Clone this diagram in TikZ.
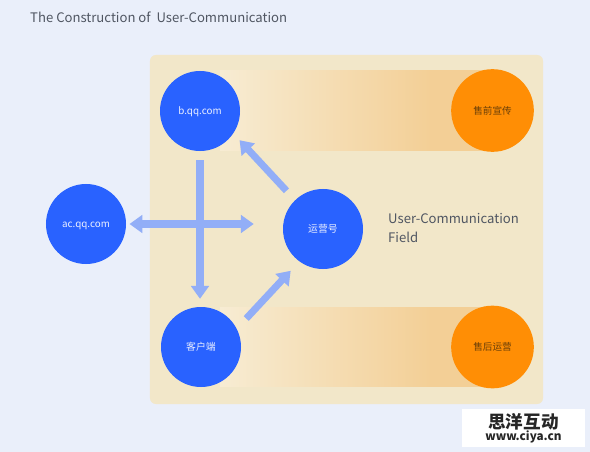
\documentclass[tikz,border=0pt]{standalone}
\usepackage{xcolor}
\usepackage{fontspec}
\setmainfont{Noto Sans CJK SC}
\usetikzlibrary{arrows.meta,shapes.geometric}
\definecolor{fieldPage}{HTML}{EAEFFA}
\definecolor{fieldPanel}{HTML}{F2E7C9}
\definecolor{fieldBandStart}{HTML}{F7ECD3}
\definecolor{fieldBand}{HTML}{F3CF96}
\definecolor{fieldBlue}{HTML}{2962FF}
\definecolor{fieldOrange}{HTML}{FF8E05}
\definecolor{fieldFlow}{HTML}{92AEF7}
\definecolor{fieldInk}{HTML}{505662}
\definecolor{fieldStageInk}{HTML}{6A3F08}
\pgfdeclarehorizontalshading{bandfade}{100bp}{color(0bp)=(fieldBandStart); color(25bp)=(fieldBandStart); color(64bp)=(fieldBand); color(75bp)=(fieldBand); color(100bp)=(fieldBand)}

\begin{document}
\begin{tikzpicture}[
  x=0.03cm,y=-0.03cm,
  hub/.style={circle,fill=fieldBlue,text=white!90!fieldBlue,minimum size=2.4cm,inner sep=0pt,outer sep=0pt,text height=1.6ex,text depth=0.4ex,font=\fontsize{8.4}{10}\selectfont},
  stage/.style={circle,fill=fieldOrange,text=fieldStageInk,minimum size=2.48cm,inner sep=0pt,outer sep=0pt,font=\fontsize{8.2}{10}\selectfont},
  band/.style={minimum width=8.1cm,minimum height=2.37cm,inner sep=0pt,outer sep=0pt,shading=bandfade},
  flow/.style={draw=fieldFlow,line width=6pt,-{Triangle[length=11pt,width=15pt]}},
  twoway/.style={draw=fieldFlow,line width=6pt,{Triangle[length=11pt,width=15pt]}-{Triangle[length=11pt,width=15pt]}},
  caption/.style={text=fieldInk,anchor=west,align=left,inner sep=0pt}
]
% Page and field
\fill[fieldPage] (0,0) rectangle (590,452);
\useasboundingbox (0,0) rectangle (590,452);
\node[minimum width=11.79cm,minimum height=10.47cm,inner sep=0pt,fill=fieldPanel,rounded corners=5pt] (field) at (346.5,229.5) {};

% Bands behind the stages
\node[band] (bandtop) at (355,110.5) {};
\node[band] (bandbot) at (355,346.5) {};

% Stages and hubs
\node[stage] (pre)  at (492.5,110.5) {售前宣传};
\node[stage] (post) at (492.5,347) {售后运营};
\node[hub] (b)  at (200,111) {b.qq.com};
\node[hub] (ac) at (86,224)  {ac.qq.com};
\node[hub] (yy) at (323,229) {运营号};
\node[hub] (kh) at (201,347) {客户端};

% Flows
\draw[flow,shorten <=8pt,shorten >=7pt] (b) -- (b |- kh.north);
\draw[twoway,shorten <=3pt,shorten >=25pt] (ac.east) -- (yy.west |- ac.east);
\draw[flow,shorten <=11pt,shorten >=8pt] (yy.134) -- (b.-34);
\draw[flow,shorten <=12pt,shorten >=11pt] (kh.27) -- (yy.234);

% Texts
\node[caption,font=\fontsize{11.2}{13}\selectfont] (title) at (30,17) {The Construction of\ \ User-Communication};
\node[caption,font=\fontsize{11.2}{17}\selectfont] (label) at (388,228) {User-Communication\\Field};

% Mark
\node[fill=white,minimum width=3.69cm,minimum height=1.14cm,inner sep=0pt,align=center,text=black!85] (mark) at (523.5,428)
  {\fontsize{15}{15}\selectfont\bfseries 思洋互动\\[-2pt]\fontsize{10}{10}\selectfont\bfseries www.ciya.cn};
\end{tikzpicture}
\end{document}
